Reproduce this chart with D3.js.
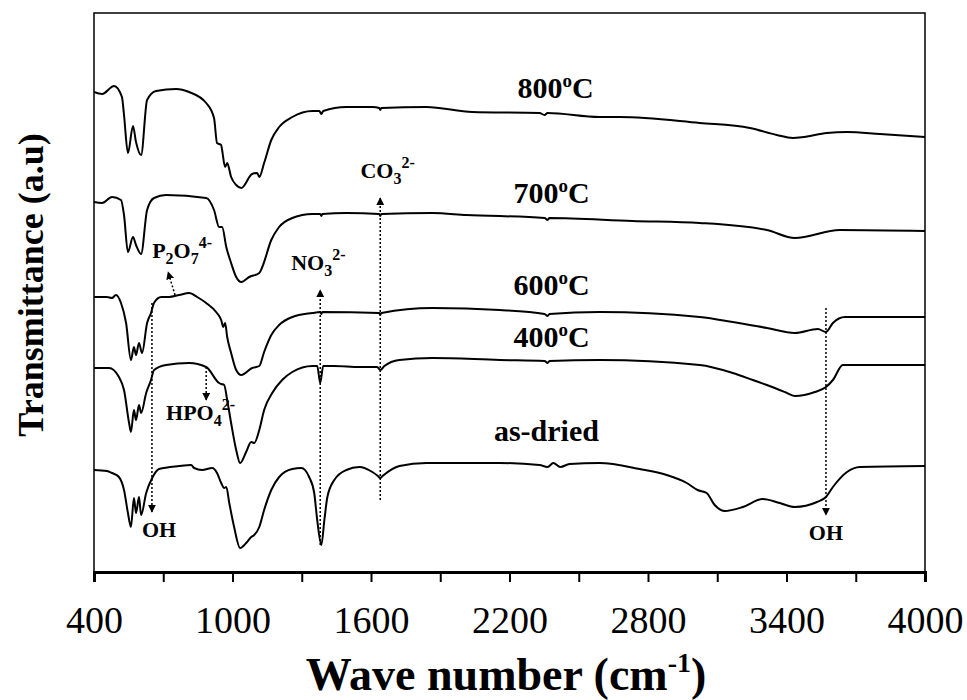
<!DOCTYPE html>
<html>
<head>
<meta charset="utf-8">
<script src="https://cdn.jsdelivr.net/npm/d3@7"></script>
<style>
  body { margin: 0; background: #fff; }
  text { font-family: "Liberation Serif", "Times New Roman", serif; fill: #000; }
</style>
</head>
<body>
<div id="chart"></div>
<script>
// FTIR spectra, [wave number (cm-1), transmittance (a.u.)]
const s800 = [[400,480],[435,478],[487,486],[521,475],[530,457],[547,419],[569,446],[582,430],[604,417],[630,472],[669,481],[756,483],[812,480],[886,469],[920,454],[933,429],[951,427],[955,422],[968,405],[977,409],[994,395],[1016,387],[1038,384],[1085,398],[1107,399],[1116,395],[1137,409],[1168,432],[1202,445],[1259,455],[1346,461],[1376,461],[1385,458],[1393,461],[1493,465],[1606,465],[1636,464],[1640,462],[1645,464],[1840,465],[2039,460],[2330,459],[2352,457],[2365,459],[2590,455],[2677,455],[3024,449],[3241,444],[3358,437],[3427,434],[3475,435],[3575,439],[3662,440],[3805,438],[4000,435]];
const s700 = [[400,370],[435,369],[478,375],[517,372],[530,357],[547,320],[569,335],[582,327],[604,318],[630,362],[660,374],[712,377],[886,374],[920,362],[942,345],[955,345],[973,325],[994,309],[1016,295],[1038,290],[1072,295],[1116,299],[1129,305],[1168,332],[1202,345],[1259,354],[1346,358],[1380,358],[1385,356],[1389,358],[1493,359],[1636,358],[1640,356],[1645,358],[1866,359],[2013,357],[2352,354],[2365,352],[2373,354],[2733,351],[3024,349],[3315,342],[3436,334],[3631,342],[4000,341]];
const s600 = [[400,275],[456,275],[478,274],[495,277],[517,269],[539,249],[560,212],[573,225],[582,217],[595,229],[608,219],[630,249],[647,259],[660,269],[691,275],[725,275],[769,277],[812,279],[847,275],[886,269],[929,260],[951,252],[960,245],[968,249],[977,235],[994,219],[1016,202],[1038,197],[1085,204],[1116,206],[1137,220],[1168,237],[1202,247],[1259,255],[1346,259],[1380,260],[1385,258],[1389,260],[1636,259],[1640,257],[1645,259],[1866,264],[2157,262],[2352,258],[2365,256],[2373,258],[2590,260],[3024,255],[3167,250],[3315,244],[3436,239],[3536,243],[3571,240],[3601,249],[3653,255],[4000,255]];
const s400 = [[400,204],[465,204],[508,195],[530,182],[552,149],[560,140],[573,162],[582,152],[595,167],[604,159],[626,179],[647,192],[660,202],[712,207],[812,209],[886,205],[942,189],[951,188],[964,187],[977,172],[994,149],[1016,122],[1033,109],[1059,120],[1081,130],[1094,129],[1116,142],[1137,162],[1172,179],[1215,192],[1259,200],[1346,206],[1367,206],[1380,189],[1393,206],[1441,206],[1549,205],[1627,205],[1640,202],[1658,206],[1723,212],[1866,214],[2157,212],[2352,211],[2365,209],[2373,211],[2590,212],[3024,207],[3167,199],[3254,192],[3315,187],[3393,180],[3436,176],[3523,180],[3571,185],[3601,192],[3644,207],[3700,207],[4000,207]];
const sDried = [[400,102],[456,101],[478,99],[508,95],[530,82],[547,59],[560,45],[573,74],[582,59],[595,75],[604,57],[626,79],[652,94],[682,103],[769,106],[821,107],[834,104],[868,102],[912,104],[933,99],[951,89],[964,84],[973,85],[986,69],[1007,45],[1033,24],[1059,29],[1081,35],[1094,37],[1116,45],[1137,62],[1168,82],[1202,95],[1259,103],[1298,104],[1332,95],[1354,79],[1367,52],[1385,27],[1398,52],[1411,75],[1441,92],[1493,102],[1549,105],[1606,100],[1630,96],[1640,94],[1650,96],[1723,106],[1840,109],[2157,109],[2330,107],[2365,105],[2390,109],[2420,105],[2460,108],[2590,109],[2764,103],[2881,97],[2968,89],[3015,82],[3054,79],[3089,67],[3132,61],[3211,65],[3297,73],[3371,69],[3436,65],[3532,70],[3571,75],[3601,85],[3662,100],[3718,105],[4000,106]];

const seriesList = [s800, s700, s600, s400, sDried];
const seriesNames = ["800", "700", "600", "400", "as-dried"];
// label anchors: [wave number, transmittance]
const seriesLabelAt = [[2400,474],[2382,369],[2382,277],[2382,225],[2360,131]];

const xTicks = [400,700,1000,1300,1600,1900,2200,2500,2800,3100,3400,3700,4000];

// dotted markers: [wave number, from T, to T]
const markerLines = [[651,269,60],[886,205,172],[1380,27,282],[1640,72,374],[3571,264,57]];
const p2o7Line = [[751,277],[721,300]];
// annotation texts: [main, sub, sup, wave number, T, anchor]
const annots = [
  ["P", "2", "", 652, 314, "start", "O", "7", "4-"],
  ["HPO", "4", "2-", 712, 152, "start"],
  ["NO", "3", "2-", 1254, 302, "start"],
  ["CO", "3", "2-", 1554, 394, "start"],
  ["OH", "", "", 682, 35, "middle"],
  ["OH", "", "", 3571, 32, "middle"]
];

const margin = {top: 13, right: 42, bottom: 128, left: 94};
const W = 967, H = 700;
const width = W - margin.left - margin.right;
const height = H - margin.top - margin.bottom;

const svg = d3.select("#chart").append("svg").attr("width", W).attr("height", H);
const g = svg.append("g").attr("transform", "translate(" + [margin.left, margin.top] + ")");

const xScale = d3.scaleLinear().domain([400, 4000]).range([0, width]);
const yScale = d3.scaleLinear().domain([0, 559]).range([height, 0]);

svg.append("defs").append("marker")
  .attr("id", "arr").attr("viewBox", "0 0 10 10").attr("refX", 9).attr("refY", 5)
  .attr("markerWidth", 8).attr("markerHeight", 8).attr("markerUnits", "userSpaceOnUse")
  .attr("orient", "auto")
  .append("path").attr("d", "M0,0 L10,5 L0,10 Z").attr("fill", "#000");

// frame
g.append("rect").attr("width", width).attr("height", height)
  .attr("fill", "none").attr("stroke", "#000").attr("stroke-width", 1.5);

// x axis
const xAxis = d3.axisBottom(xScale).tickValues(xTicks).tickSize(10)
  .tickFormat(d => (d - 400) % 600 === 0 ? d : "");
const ax = g.append("g").attr("transform", "translate(0," + height + ")").call(xAxis);
ax.select(".domain").attr("stroke-width", 3);
ax.selectAll(".tick line").attr("stroke-width", 2);
ax.selectAll(".tick text").attr("y", 61).attr("dy", 0)
  .style("font-family", '"Liberation Serif", serif').style("font-size", "38px");

// spectra
const line = d3.line().x(d => xScale(d[0])).y(d => yScale(d[1])).curve(d3.curveMonotoneX);
g.selectAll(".spec").data(seriesList).enter().append("path")
  .attr("class", "spec").attr("d", line)
  .attr("fill", "none").attr("stroke", "#000").attr("stroke-width", 2);

// series labels
seriesNames.forEach((name, i) => {
  const t = g.append("text").attr("x", xScale(seriesLabelAt[i][0])).attr("y", yScale(seriesLabelAt[i][1]))
    .attr("text-anchor", "middle").style("font-size", "30px").style("font-weight", "bold");
  if (name === "as-dried") { t.text(name); return; }
  t.append("tspan").text(name);
  t.append("tspan").attr("dy", -11).style("font-size", "19px").text("o");
  t.append("tspan").attr("dy", 11).text("C");
});

// dotted marker lines
markerLines.forEach(m => {
  g.append("line").attr("x1", xScale(m[0])).attr("x2", xScale(m[0]))
    .attr("y1", yScale(m[1])).attr("y2", yScale(m[2]))
    .attr("stroke", "#000").attr("stroke-width", 1.5).attr("stroke-dasharray", "2,2")
    .attr("marker-end", "url(#arr)");
});
g.append("line").attr("x1", xScale(p2o7Line[0][0])).attr("y1", yScale(p2o7Line[0][1]))
  .attr("x2", xScale(p2o7Line[1][0])).attr("y2", yScale(p2o7Line[1][1]))
  .attr("stroke", "#000").attr("stroke-width", 1.5).attr("stroke-dasharray", "2,2")
  .attr("marker-end", "url(#arr)");

// annotation texts
annots.forEach(a => {
  const t = g.append("text").attr("x", xScale(a[3])).attr("y", yScale(a[4]))
    .attr("text-anchor", a[5]).style("font-size", "22px").style("font-weight", "bold");
  t.append("tspan").text(a[0]);
  if (a[1]) t.append("tspan").attr("dy", 6).style("font-size", "16px").text(a[1]);
  if (a[6]) {
    t.append("tspan").attr("dy", -6).text(a[6]);
    t.append("tspan").attr("dy", 6).style("font-size", "16px").text(a[7]);
    t.append("tspan").attr("dy", -16).style("font-size", "16px").text(a[8]);
  } else if (a[2]) {
    t.append("tspan").attr("dy", -16).style("font-size", "16px").text(a[2]);
  }
});

// axis titles
const xt = svg.append("text").attr("x", 506).attr("y", 690).attr("text-anchor", "middle")
  .style("font-size", "46px").style("font-weight", "bold");
xt.append("tspan").text("Wave number (cm");
xt.append("tspan").attr("dy", -18).style("font-size", "28px").text("-1");
xt.append("tspan").attr("dy", 18).text(")");

svg.append("text").attr("transform", "translate(43,285) rotate(-90)")
  .attr("text-anchor", "middle").style("font-size", "36px").style("font-weight", "bold")
  .text("Transmittance (a.u)");
</script>
</body>
</html>
